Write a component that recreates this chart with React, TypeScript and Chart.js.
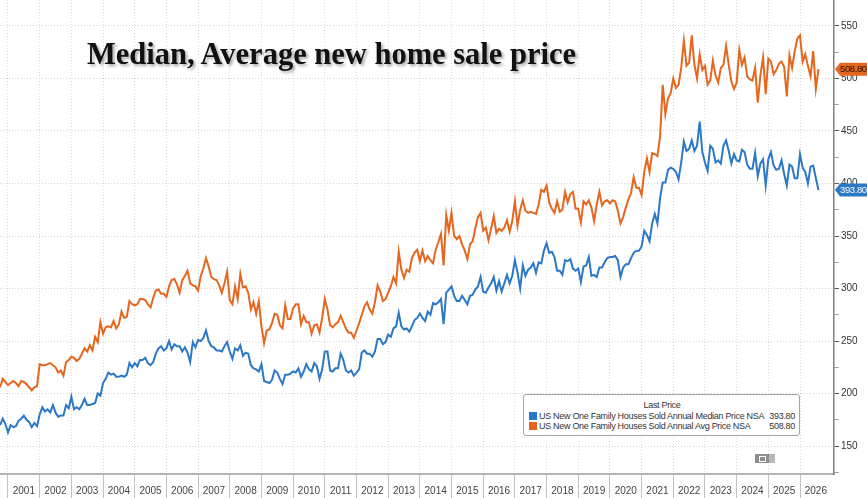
import { useEffect, useRef } from "react";
import { Chart, registerables, type Plugin } from "chart.js";

Chart.register(...registerables);

// monthly series, first point is Oct 2000
const START_YEAR = 2000;
const START_MONTH = 10;

const YEAR_LABELS = [
  2001, 2002, 2003, 2004, 2005, 2006, 2007, 2008, 2009, 2010, 2011, 2012, 2013,
  2014, 2015, 2016, 2017, 2018, 2019, 2020, 2021, 2022, 2023, 2024, 2025, 2026,
];

const Y_TICKS = [125, 150, 175, 200, 225, 250, 275, 300, 325, 350, 375, 400, 425, 450, 475, 500, 525, 550];

const MEDIAN_LABEL = "US New One Family Houses Sold Annual Median Price NSA";
const AVG_LABEL = "US New One Family Houses Sold Annual Avg Price NSA";

// thousands of USD
const medianPrice = [
  170, 176, 171, 163, 170, 168, 169, 174, 176, 179, 175, 173, 168, 172, 169, 180, 187, 183, 185, 182,
  189, 182, 178, 179, 179, 189, 186, 197, 185, 187, 185, 189, 195, 189, 189, 190, 191, 200, 198, 210,
  214, 220, 218, 219, 216, 216, 217, 216, 218, 229, 225, 229, 226, 232, 232, 234, 229, 227, 230, 238,
  243, 245, 241, 243, 250, 242, 247, 245, 245, 240, 244, 239, 230, 249, 244, 251, 250, 253, 260, 250,
  245, 244, 241, 241, 240, 245, 249, 240, 233, 243, 241, 246, 236, 239, 238, 227, 224, 223, 221, 228,
  212, 211, 210, 213, 222, 220, 214, 209, 218, 218, 219, 221, 220, 224, 216, 221, 228, 223, 221, 229,
  226, 214, 223, 240, 240, 222, 221, 224, 224, 238, 232, 222, 220, 222, 217, 220, 223, 239, 241, 238,
  238, 235, 240, 252, 252, 247, 249, 256, 254, 262, 264, 277, 264, 261, 262, 259, 264, 270, 272, 276,
  272, 269, 278, 275, 286, 285, 287, 290, 266, 296, 299, 302, 293, 288, 288, 293, 289, 285, 293, 294,
  299, 302, 311, 297, 296, 301, 305, 311, 298, 307, 297, 305, 313, 305, 312, 327, 315, 300, 322, 312,
  318, 320, 324, 315, 325, 324, 336, 343, 334, 335, 330, 317, 317, 313, 327, 326, 328, 319, 317, 319,
  306, 321, 322, 330, 312, 313, 311, 320, 320, 325, 329, 330, 330, 331, 327, 311, 320, 323, 323, 329,
  334, 336, 336, 340, 355, 351, 345, 362, 371, 362, 386, 401, 401, 413, 415, 414, 411, 404, 420, 440,
  431, 433, 441, 431, 436, 459, 430, 420, 412, 436, 433, 420, 422, 419, 436, 441, 431, 419, 428, 422,
  421, 432, 430, 418, 414, 414, 429, 407, 419, 423, 398, 423, 430, 417, 413, 414, 422, 409, 398, 418,
  416, 405, 405, 428, 415, 411, 400, 416, 417, 405, 393.8,
];

const avgPrice = [
  206, 214, 211, 208, 210, 212, 210, 207, 212, 211, 209, 206, 203, 206, 207, 228, 227, 227, 228, 229,
  227, 225, 220, 222, 217, 230, 232, 235, 234, 231, 233, 238, 243, 240, 246, 241, 254, 249, 268, 257,
  263, 264, 263, 269, 262, 266, 278, 272, 273, 288, 285, 284, 285, 290, 290, 289, 285, 282, 291, 298,
  299, 295, 295, 292, 302, 308, 309, 304, 296, 308, 312, 317, 305, 303, 302, 298, 312, 319, 329, 321,
  311, 309, 308, 303, 296, 305, 316, 289, 285, 302, 290, 314, 301, 302, 296, 280, 287, 276, 288, 264,
  248, 260, 261, 267, 276, 275, 265, 262, 284, 271, 271, 281, 285, 285, 266, 274, 268, 268, 257, 265,
  266, 258, 272, 290, 280, 265, 263, 266, 268, 274, 268, 262, 258, 258, 253, 260, 267, 275, 283, 287,
  280, 276, 287, 303, 297, 288, 290, 296, 302, 311, 305, 335, 318, 310, 318, 316, 329, 334, 337, 326,
  336, 326, 331, 327, 324, 337, 344, 352, 322, 370, 355, 372, 350, 347, 350, 342, 336, 328, 342, 345,
  357, 368, 372, 355, 358, 346, 357, 369, 353, 357, 355, 358, 365, 354, 364, 383, 360, 375, 384, 374,
  372, 373, 372, 371, 380, 394, 392, 398, 382, 376, 372, 383, 373, 375, 392, 382, 390, 392, 376, 376,
  363, 383, 380, 384, 377, 364, 380, 392, 379, 383, 384, 381, 384, 383, 374, 362, 368, 377, 385, 391,
  406, 396, 396, 389, 411, 424, 411, 429, 428, 426, 445, 494, 466, 481, 486, 500, 491, 494, 510, 536,
  512, 515, 541, 513, 500, 523, 508, 512, 494, 498, 517, 503, 496, 510, 513, 531, 513, 497, 490, 496,
  527, 513, 520, 502, 499, 498, 510, 477, 503, 520, 485, 519, 516, 504, 508, 514, 516, 511, 483, 522,
  510, 526, 538, 541, 516, 523, 512, 502, 526, 490, 508.8,
];

const BLUE = "#2a78c6";
const ORANGE = "#e5661e";

const X_MIN = 2000.7475;
const X_MAX = 2027.073;
const Y_MIN = 123.4;
const Y_MAX = 574.7;
const YEAR_PX = 31.68;

const toPoints = (values: number[]) =>
  values.map((v, i) => ({ x: START_YEAR + (START_MONTH - 1) / 12 + i / 12, y: v }));

const lastTags: Plugin<"line"> = {
  id: "lastTags",
  afterDraw(chart) {
    const { ctx, chartArea } = chart;
    const y = chart.scales.y;
    const tags = [
      { v: avgPrice[avgPrice.length - 1], bg: ORANGE, fg: "#2a1200" },
      { v: medianPrice[medianPrice.length - 1], bg: BLUE, fg: "#ffffff" },
    ];
    ctx.save();
    for (const t of tags) {
      const py = y.getPixelForValue(t.v);
      const x0 = chartArea.right + 1;
      const h = 13;
      ctx.beginPath();
      ctx.moveTo(x0, py);
      ctx.lineTo(x0 + 5, py - h / 2);
      ctx.lineTo(chart.width, py - h / 2);
      ctx.lineTo(chart.width, py + h / 2);
      ctx.lineTo(x0 + 5, py + h / 2);
      ctx.closePath();
      ctx.fillStyle = t.bg;
      ctx.fill();
      ctx.fillStyle = t.fg;
      ctx.font = "9.5px 'Liberation Sans'";
      (ctx as any).letterSpacing = "-0.4px";
      ctx.textBaseline = "middle";
      ctx.textAlign = "left";
      ctx.fillText(t.v.toFixed(2), x0 + 5, py + 0.5);
    }
    ctx.restore();
  },
};

function HomePriceChart() {
  const canvasRef = useRef<HTMLCanvasElement>(null);

  useEffect(() => {
    if (!canvasRef.current) return;
    document.body.style.margin = "0";

    const chart = new Chart(canvasRef.current, {
      type: "line",
      data: {
        datasets: [
          {
            label: AVG_LABEL,
            data: toPoints(avgPrice),
            borderColor: ORANGE,
            borderWidth: 2,
            pointRadius: 0,
            tension: 0,
          },
          {
            label: MEDIAN_LABEL,
            data: toPoints(medianPrice),
            borderColor: BLUE,
            borderWidth: 2,
            pointRadius: 0,
            tension: 0,
          },
        ],
      },
      options: {
        animation: false,
        responsive: false,
        maintainAspectRatio: false,
        layout: { padding: 0 },
        plugins: {
          legend: { display: false },
          tooltip: { enabled: false },
        },
        scales: {
          x: {
            type: "linear",
            min: X_MIN,
            max: X_MAX,
            afterBuildTicks: (s) => {
              s.ticks = YEAR_LABELS.map((v) => ({ value: v }));
            },
            afterFit: (s) => {
              s.height = 24;
              s.paddingLeft = 0;
              s.paddingRight = 0;
            },
            grid: {
              color: "#dadada",
              lineWidth: 1,
              tickLength: 24,
              tickColor: "#c2c2c2",
              tickWidth: 1,
              tickBorderDash: [1, 0],
            },
            border: { color: "#b4b4b4", width: 2, dash: [1, 2] },
            ticks: {
              autoSkip: false,
              maxRotation: 0,
              padding: -13,
              labelOffset: YEAR_PX / 2,
              color: "#444",
              font: { family: "Liberation Sans", size: 10 },
              callback: (v) => String(v),
            },
          },
          y: {
            position: "right",
            min: Y_MIN,
            max: Y_MAX,
            afterBuildTicks: (s) => {
              s.ticks = Y_TICKS.map((v) => ({ value: v }));
            },
            afterFit: (s) => {
              s.width = 33;
              s.paddingTop = 0;
              s.paddingBottom = 0;
            },
            grid: {
              color: (c) => (c.tick && c.tick.value % 50 === 0 ? "#d4d4d4" : "rgba(0,0,0,0)"),
              tickColor: (c) => (c.tick && c.tick.value % 50 === 0 ? "#222" : "#888"),
              tickLength: 5,
              tickWidth: 1,
              tickBorderDash: [1, 0],
            },
            border: { color: "#808080", width: 1.5, dash: [1, 2] },
            ticks: {
              padding: 2,
              color: "#333",
              font: { family: "Liberation Sans", size: 10 },
              callback: (v) => (Number(v) % 50 === 0 ? String(v) : ""),
            },
          },
        },
      },
      plugins: [lastTags],
    });

    return () => chart.destroy();
  }, []);

  return (
    <div style={{ position: "relative", width: 867, height: 498, background: "#fff", overflow: "hidden" }}>
      <canvas ref={canvasRef} width={867} height={498} style={{ display: "block" }} />
      <div
        style={{
          position: "absolute",
          left: 87,
          top: 39,
          fontFamily: "'Liberation Serif', serif",
          fontWeight: "bold",
          fontSize: 30.5,
          lineHeight: "30px",
          color: "#111",
          whiteSpace: "nowrap",
          textShadow: "2px 2px 3px rgba(0,0,0,0.35)",
        }}
      >
        Median, Average new home sale price
      </div>
      <div
        style={{
          position: "absolute",
          left: 523,
          top: 394,
          width: 277,
          height: 42,
          boxSizing: "border-box",
          border: "1px solid #a3a3a3",
          borderRadius: 3,
          background: "#fff",
          padding: "5px 4px 0 5px",
          fontFamily: "'Liberation Sans', sans-serif",
          fontSize: 9,
          lineHeight: "10.5px",
          letterSpacing: "-0.3px",
          color: "#333",
        }}
      >
        <div style={{ textAlign: "center" }}>Last Price</div>
        {[
          { label: MEDIAN_LABEL, color: BLUE, value: medianPrice[medianPrice.length - 1] },
          { label: AVG_LABEL, color: ORANGE, value: avgPrice[avgPrice.length - 1] },
        ].map((r) => (
          <div key={r.label} style={{ display: "flex", alignItems: "center", whiteSpace: "nowrap" }}>
            <span style={{ width: 8, height: 8, background: r.color, marginRight: 2, flex: "none" }} />
            <span style={{ flex: 1 }}>{r.label}</span>
            <span>{r.value.toFixed(2)}</span>
          </div>
        ))}
      </div>
      <div style={{ position: "absolute", left: 755, top: 454, width: 14, height: 9, background: "#8e8e8e" }}>
        <div style={{ position: "absolute", left: 4, top: 2, width: 5, height: 4, border: "1px solid #fff" }} />
      </div>
      <div style={{ position: "absolute", left: 769, top: 454, width: 6, height: 9, background: "#b8b8b8" }} />
    </div>
  );
}

export default function App() {
  return <HomePriceChart />;
}
